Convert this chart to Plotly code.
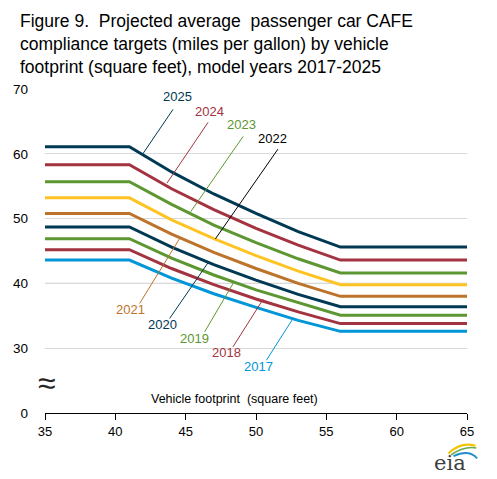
import plotly.graph_objects as go

# Vehicle footprint (square feet) sample points
footprint = [35, 41, 44, 47, 50, 53, 56, 65]

# Compliance targets (mpg)
mpg_2017 = [43.6, 43.6, 40.8, 38.4, 36.3, 34.3, 32.6, 32.6]
mpg_2018 = [45.2, 45.2, 42.3, 39.8, 37.6, 35.6, 33.8, 33.8]
mpg_2019 = [46.9, 46.9, 43.9, 41.3, 39.0, 37.0, 35.1, 35.1]
mpg_2020 = [48.7, 48.7, 45.6, 42.9, 40.5, 38.3, 36.4, 36.4]
mpg_2021 = [50.8, 50.8, 47.6, 44.8, 42.3, 40.0, 38.0, 38.0]
mpg_2022 = [53.2, 53.2, 49.8, 46.9, 44.3, 41.9, 39.8, 39.8]
mpg_2023 = [55.7, 55.7, 52.2, 49.0, 46.3, 43.8, 41.6, 41.6]
mpg_2024 = [58.3, 58.3, 54.6, 51.4, 48.5, 45.9, 43.6, 43.6]
mpg_2025 = [61.1, 61.1, 57.2, 53.8, 50.8, 48.0, 45.6, 45.6]

years = ['2017', '2018', '2019', '2020', '2021', '2022', '2023', '2024', '2025']
series = [mpg_2017, mpg_2018, mpg_2019, mpg_2020, mpg_2021,
          mpg_2022, mpg_2023, mpg_2024, mpg_2025]

# y ticks: axis is broken, bottom tick stands for 0
y_tickvals = [20, 30, 40, 50, 60, 70]
y_ticktext = ['0', '30', '40', '50', '60', '70']
x_tickvals = [35, 40, 45, 50, 55, 60, 65]

colors = {
    '2017': '#0096d7', '2018': '#a33340', '2019': '#5d9732',
    '2020': '#003953', '2021': '#bd732a', '2022': '#ffc424',
    '2023': '#5d9732', '2024': '#a33340', '2025': '#003953',
}
label_colors = dict(colors)
label_colors['2022'] = '#000000'

# label position (x, y) and leader line (x0, y0, x1, y1) in data units
label_layout = {
    '2025': (44.4, 68.8, 44.10, 66.85, 41.97, 60.04),
    '2024': (46.7, 66.5, 46.59, 64.84, 43.67, 55.47),
    '2023': (49.0, 64.5, 49.08, 62.67, 45.36, 51.08),
    '2022': (51.2, 62.3, 51.56, 60.72, 47.11, 46.86),
    '2021': (41.1, 35.9, 41.73, 36.91, 44.58, 46.96),
    '2020': (43.35, 33.7, 43.86, 34.59, 46.59, 43.19),
    '2019': (45.65, 31.5, 46.35, 32.52, 48.44, 40.25),
    '2018': (47.9, 29.4, 48.36, 30.20, 50.50, 37.53),
    '2017': (50.15, 27.1, 50.74, 28.15, 52.63, 34.59),
}

fig = go.Figure()

for yr, vals in zip(years, series):
    fig.add_trace(go.Scatter(
        x=footprint, y=vals, mode='lines', name=yr,
        line=dict(color=colors[yr], width=3),
        showlegend=False,
    ))

# darker gridline at 40
fig.add_shape(type='line', x0=35, x1=65, y0=40, y1=40,
              line=dict(color='#8c8c8c', width=1), layer='below')

for yr in years:
    lx, ly, x0, y0, x1, y1 = label_layout[yr]
    fig.add_shape(type='line', x0=x0, y0=y0, x1=x1, y1=y1,
                  line=dict(color=label_colors[yr], width=1))
    fig.add_annotation(x=lx, y=ly, text=yr, showarrow=False,
                       font=dict(size=13, color=label_colors[yr]))

# axis title sits inside the plot, above the axis
fig.add_annotation(x=48.5, y=22.2, text='Vehicle footprint  (square feet)',
                   showarrow=False, font=dict(size=12.5, color='#000000'))

# axis break symbol
fig.add_annotation(x=35.15, y=24.6, text='≈', showarrow=False,
                   font=dict(size=32, color='#262626'))

# title
fig.add_annotation(
    xref='paper', yref='paper', x=-0.065, y=1.246,
    xanchor='left', yanchor='top', align='left', showarrow=False,
    text=('Figure 9.  Projected average  passenger car CAFE<br>'
          'compliance targets (miles per gallon) by vehicle<br>'
          'footprint (square feet), model years 2017-2025'),
    font=dict(size=17.5, color='#000000'),
)

# eia logo
fig.add_annotation(xref='paper', yref='paper', x=1.003, y=-0.153,
                   yanchor='middle', text='eia', showarrow=False,
                   font=dict(size=21, color='#3f3f3f', family='DejaVu Serif'))
fig.add_shape(type='path', xref='paper', yref='paper',
              path='M 0.956,-0.125 Q 0.985,-0.088 1.02,-0.101',
              line=dict(color='#f2c500', width=2))
fig.add_shape(type='path', xref='paper', yref='paper',
              path='M 0.962,-0.129 Q 0.995,-0.101 1.022,-0.108',
              line=dict(color='#6aa84f', width=1.5))
fig.add_shape(type='path', xref='paper', yref='paper',
              path='M 0.968,-0.133 Q 1.005,-0.111 1.024,-0.140',
              line=dict(color='#1f8fd0', width=2))

# page body adds 8px around the figure, so the canvas is shrunk to match
fig.update_layout(
    width=489, height=471,
    margin=dict(l=37, r=30, t=81, b=66),
    plot_bgcolor='white', paper_bgcolor='white',
    font=dict(family='Liberation Sans, Arial', color='#000000'),
)

fig.update_xaxes(
    range=[35, 65], tickvals=x_tickvals,
    showline=True, linecolor='#000000', linewidth=1,
    ticks='outside', ticklen=6, tickcolor='#000000',
    showgrid=False, zeroline=False, automargin=False,
    tickfont=dict(size=13),
)
fig.update_yaxes(
    range=[20, 70], tickvals=y_tickvals, ticktext=y_ticktext,
    showgrid=True, gridcolor='#d9d9d9', gridwidth=1,
    zeroline=False, showline=False, automargin=False,
    ticks='', ticklabelstandoff=16,
    tickfont=dict(size=13.5),
)

fig.write_html("out.html")
